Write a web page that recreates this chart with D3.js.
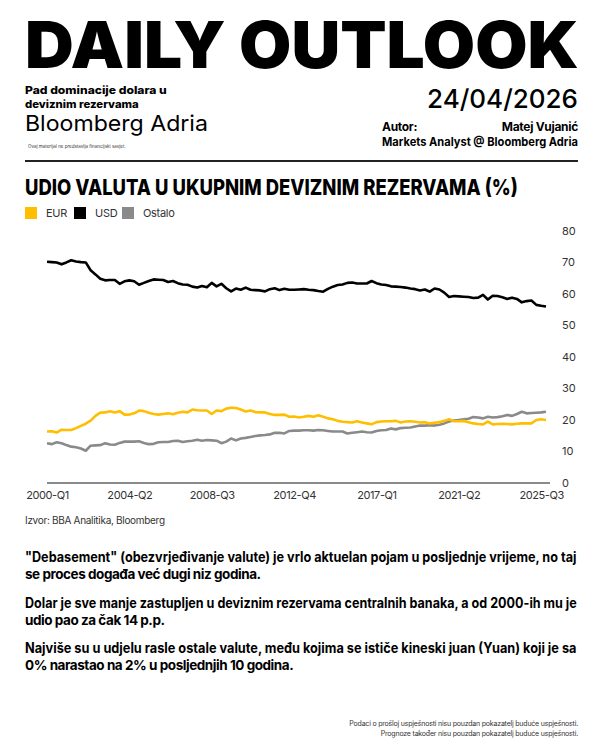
<!DOCTYPE html>
<html><head><meta charset="utf-8">
<script src="https://cdn.jsdelivr.net/npm/d3@7"></script>
<style>
html,body{margin:0;padding:0;background:#fff;}
svg{display:block;font-family:Inter,"Noto Sans",sans-serif;}
</style></head>
<body>
<svg id="c" width="600" height="750"></svg>
<script>
const quarters = [];
for (let y = 2000; y <= 2025; y++) for (let q = 1; q <= 4; q++) quarters.push(y + "-Q" + q);
const tickLabels = ["2000-Q1","2004-Q2","2008-Q3","2012-Q4","2017-Q1","2021-Q2","2025-Q3"];
const yTicks = [0,10,20,30,40,50,60,70,80];
const usd = [70.2,70.1,70.0,69.4,70.0,70.7,70.3,70.1,70.0,67.5,66.2,64.8,64.3,64.4,64.4,63.2,64.0,64.3,64.0,62.9,
63.5,64.1,64.6,64.5,64.4,63.8,64.1,63.4,63.0,62.9,62.3,62.0,62.5,62.1,63.5,62.4,63.2,61.8,60.8,61.7,
61.3,62.0,61.3,61.2,61.1,60.8,61.5,61.8,61.2,61.6,61.3,61.3,61.4,61.5,61.3,61.2,60.9,60.7,61.6,62.3,
62.8,63.0,63.5,63.6,63.3,63.3,63.3,64.1,63.4,63.0,62.8,62.4,62.3,62.2,62.0,61.7,61.5,61.1,61.4,60.7,
61.7,61.4,60.4,59.0,59.3,59.2,59.1,59.0,58.7,58.8,59.7,58.2,59.4,59.3,58.9,58.4,58.8,58.4,57.3,57.7,
57.9,56.5,56.2,56.0];
const eur = [16.2,16.3,15.9,16.8,16.7,16.7,17.3,18.0,18.7,19.7,21.2,22.2,22.3,22.7,22.3,22.7,21.6,21.6,22.0,22.9,
22.7,22.2,21.8,21.6,21.8,22.0,21.7,22.2,22.5,22.3,23.2,23.0,22.9,22.9,21.8,22.9,22.7,23.5,23.8,23.7,
23.2,22.6,22.9,22.4,22.3,22.3,21.8,21.5,21.5,21.6,20.9,21.0,20.7,20.9,21.2,20.9,21.4,20.9,20.4,20.1,
19.6,19.3,19.2,19.1,19.5,19.1,18.8,18.5,19.2,19.4,19.5,19.5,19.6,19.1,19.4,19.5,19.3,19.1,19.2,18.8,
19.0,19.2,19.6,20.1,19.5,19.5,19.6,19.2,18.8,18.6,18.5,19.4,18.5,18.6,18.7,18.6,18.5,18.7,18.8,18.8,
18.8,19.9,20.1,19.9];
const ostalo = [12.5,12.2,12.8,12.5,11.9,11.4,11.2,10.8,10.1,11.7,11.8,11.9,12.5,12.1,12.0,12.6,13.0,13.0,13.0,13.1,
12.6,12.2,12.3,12.8,12.9,12.9,13.2,13.3,12.9,13.1,13.3,13.6,13.3,13.5,13.4,13.3,12.5,13.0,14.0,13.4,
14.0,14.2,14.5,14.8,15.0,15.1,15.3,15.8,15.8,15.6,16.4,16.5,16.5,16.6,16.6,16.5,16.7,16.6,16.4,16.2,
16.2,16.2,15.6,15.8,16.0,16.2,16.0,15.9,16.4,16.6,16.7,17.2,16.9,17.3,17.4,17.5,17.8,18.1,18.1,18.2,
18.1,18.4,18.8,19.4,19.7,19.9,20.1,20.3,20.8,20.7,20.4,20.9,20.7,20.8,21.1,21.5,21.2,21.8,22.5,22.0,
22.1,22.2,22.3,22.5];
const seriesNames = ["EUR","USD","Ostalo"];
const seriesColors = ["#FFBE00","#000000","#8a8a8a"];
const subtitleLines = ["Pad dominacije dolara u", "deviznim rezervama"];
const paragraphs = [
  ["\"Debasement\" (obezvrjeđivanje valute) je vrlo aktuelan pojam u posljednje vrijeme, no taj","se proces događa već dugi niz godina."],
  ["Dolar je sve manje zastupljen u deviznim rezervama centralnih banaka, a od 2000-ih mu je","udio pao za čak 14 p.p."],
  ["Najviše su u udjelu rasle ostale valute, među kojima se ističe kineski juan (Yuan) koji je sa","0% narastao na 2% u posljednjih 10 godina."]
];

const svg = d3.select("#c");
const L = 25, R = 578;

// text squeezed horizontally to a target width via transform
function fitText(xPos, yPos, str, size, weight, width) {
  const g = svg.append("g");
  const t = g.append("text").attr("font-size", size).attr("font-weight", weight).attr("fill", "#000").text(str);
  const w = t.node().getComputedTextLength();
  g.attr("transform", `translate(${xPos},${yPos}) scale(${width / w},1)`);
  return t;
}

// Header
fitText(L, 68, "DAILY OUTLOOK", 64, 900, R - L + 1);
fitText(L, 94, subtitleLines[0], 11, 800, 142);
fitText(L, 107.5, subtitleLines[1], 11, 800, 114);
fitText(L, 131, "Bloomberg Adria", 22, 400, 183);
svg.append("text").attr("x", 28).attr("y", 148).attr("font-size", 4.5).attr("fill", "#333")
  .text("Ovaj materijal ne predstavlja financijski savjet.");
svg.append("text").attr("x", R).attr("y", 108).attr("text-anchor", "end").attr("font-size", 26)
  .attr("font-weight", 500).text("24/04/2026");
svg.append("text").attr("x", 382).attr("y", 131).attr("font-size", 12).attr("font-weight", 700)
  .attr("letter-spacing", -0.3).text("Autor:");
svg.append("text").attr("x", R).attr("y", 131).attr("text-anchor", "end").attr("font-size", 12)
  .attr("font-weight", 700).attr("letter-spacing", -0.3).text("Matej Vujanić");
fitText(382, 146, "Markets Analyst @ Bloomberg Adria", 12, 700, R - 382);
svg.append("line").attr("x1", L).attr("x2", R).attr("y1", 161).attr("y2", 161)
  .attr("stroke", "#222").attr("stroke-width", 2);

// Chart title
fitText(L, 195, "UDIO VALUTA U UKUPNIM DEVIZNIM REZERVAMA (%)", 22, 800, 493);

// Legend
const legX = [25, 74, 122];
seriesNames.forEach((n, i) => {
  svg.append("rect").attr("x", legX[i]).attr("y", 207).attr("width", 12).attr("height", 12)
    .attr("fill", seriesColors[i]);
  svg.append("text").attr("x", legX[i] + 21).attr("y", 217).attr("font-size", 11)
    .attr("fill", "#333").attr("letter-spacing", -0.3).text(n);
});

// Scales
const x = d3.scalePoint().domain(quarters).range([47, 546]);
const y = d3.scaleLinear().domain([0, 80]).range([482.5, 231]);

// Y axis labels (right)
const yAxis = d3.axisRight(y).tickValues(yTicks).tickSize(0).tickPadding(0);
const gy = svg.append("g").attr("transform", "translate(562,0)").call(yAxis);
gy.select(".domain").remove();
gy.selectAll("text").attr("font-size", 11).attr("fill", "#333").attr("font-family", "Inter,sans-serif");

// X axis
const xAxis = d3.axisBottom(x).tickValues(tickLabels).tickSize(0).tickPadding(8);
const gx = svg.append("g").attr("transform", "translate(0,483)").call(xAxis);
gx.select(".domain").remove();
gx.selectAll("text").attr("font-size", 11).attr("fill", "#333").attr("font-family", "Inter,sans-serif")
  .attr("letter-spacing", -0.4);
svg.append("line").attr("x1", 47).attr("x2", 550).attr("y1", 483).attr("y2", 483)
  .attr("stroke", "#8a8a8a").attr("stroke-width", 2);

// Lines
const line = d3.line().x((d, i) => x(quarters[i])).y(d => y(d));
const data = [ostalo, eur, usd];
const cols = [seriesColors[2], seriesColors[0], seriesColors[1]];
data.forEach((s, k) => {
  svg.append("path").datum(s).attr("d", line).attr("fill", "none")
    .attr("stroke", cols[k]).attr("stroke-width", 2.6).attr("stroke-linejoin", "round");
});

// Source
svg.append("text").attr("x", L).attr("y", 524).attr("font-size", 10).attr("fill", "#333")
  .attr("letter-spacing", -0.3).text("Izvor: BBA Analitika, Bloomberg");

// Paragraphs
const pY = [562, 579, 608, 625, 653, 670];
let li = 0;
paragraphs.forEach(p => {
  p.forEach((t, j) => {
    if (j === 0) {
      fitText(L, pY[li], t, 14, 650, 552);
    } else {
      svg.append("text").attr("x", L).attr("y", pY[li]).attr("font-size", 13.5)
        .attr("font-weight", 650).attr("letter-spacing", -0.45).attr("fill", "#000").text(t);
    }
    li++;
  });
});

// Footer
svg.append("text").attr("x", R).attr("y", 726).attr("text-anchor", "end").attr("font-size", 7)
  .attr("fill", "#333").attr("letter-spacing", -0.2)
  .text("Podaci o prošloj uspješnosti nisu pouzdan pokazatelj buduće uspješnosti.");
svg.append("text").attr("x", R).attr("y", 736).attr("text-anchor", "end").attr("font-size", 7)
  .attr("fill", "#333").attr("letter-spacing", -0.2)
  .text("Prognoze također nisu pouzdan pokazatelj buduće uspješnosti.");
</script>
</body></html>
